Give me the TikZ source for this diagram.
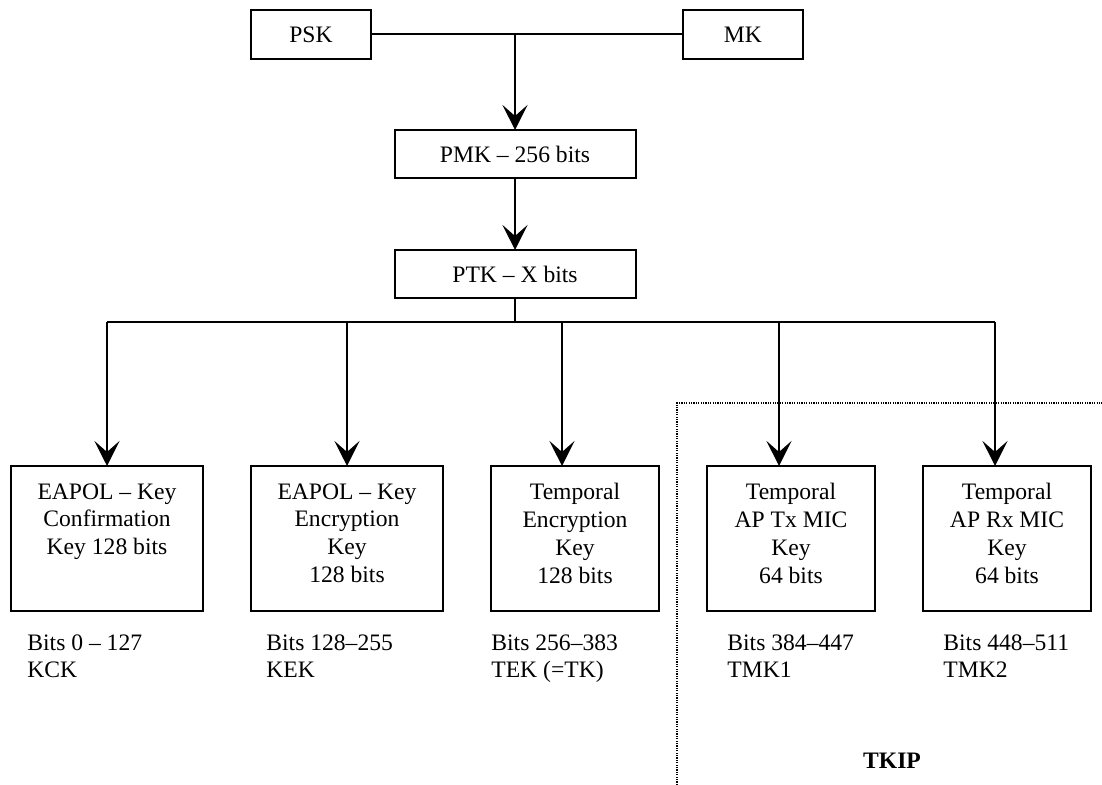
\documentclass[tikz,border=0pt]{standalone}
\usepackage{fontspec}
\setmainfont{Liberation Serif}
\usetikzlibrary{arrows.meta}
\begin{document}
\begin{tikzpicture}[x=0.5pt,y=-0.5pt,
  txt/.style={font=\fontsize{11.8}{13.9}\selectfont},
  keybox/.style={draw,line width=1pt,inner sep=0pt,outer sep=0pt},
  topbox/.style={keybox,txt,minimum width=60pt,minimum height=24.5pt},
  midbox/.style={keybox,txt,minimum width=120.5pt,minimum height=24pt},
  widebox/.style={keybox,minimum width=96pt,minimum height=72.5pt},
  narrowbox/.style={keybox,minimum width=84pt,minimum height=72.5pt},
  boxtext/.style={txt,align=center,inner sep=0pt,anchor=north},
  bitlabel/.style={txt,align=left,inner sep=0pt,anchor=north west},
  wire/.style={line width=1pt},
  feed/.style={wire,-{Stealth[length=12.5pt,width=12.5pt,inset=5.5pt]}},
  group/.style={line width=0.8pt,dash pattern=on 0.6pt off 0.6pt}
]
\useasboundingbox (0,0) rectangle (1102,785);

% key sources
\node[topbox] (psk) at (311,34.5) {PSK};
\node[topbox] (mk)  at (743,34.5) {MK};
\coordinate (merge) at (515,34.5);

% derived master keys
\node[midbox] (pmk) at (515,154) {PMK -- 256 bits};
\node[midbox] (ptk) at (515,274) {PTK -- X bits};

% split of the PTK
\node[widebox]   (kck)  at (107,538.5) {};
\node[widebox]   (kek)  at (347,538.5) {};
\node[narrowbox] (tek)  at (575,538.5) {};
\node[narrowbox] (tmk1) at (791,538.5) {};
\node[narrowbox] (tmk2) at (1007,538.5) {};

\node[boxtext] (kckt)  at ([yshift=-8.5pt]kck.north)  {EAPOL -- Key\\Confirmation\\Key 128 bits};
\node[boxtext] (kekt)  at ([yshift=-8.5pt]kek.north)  {EAPOL -- Key\\Encryption\\Key\\128 bits};
\node[boxtext] (tekt)  at ([yshift=-8.5pt]tek.north)  {Temporal\\Encryption\\Key\\128 bits};
\node[boxtext] (tmk1t) at ([yshift=-8.5pt]tmk1.north) {Temporal\\AP Tx MIC\\Key\\64 bits};
\node[boxtext] (tmk2t) at ([yshift=-8.5pt]tmk2.north) {Temporal\\AP Rx MIC\\Key\\64 bits};

% bus junctions
\coordinate (j1) at (107,322);
\coordinate (j2) at (347,322);
\coordinate (j3) at (562,322);
\coordinate (j4) at (779,322);
\coordinate (j5) at (995,322);

% connectors
\draw[wire] (psk.east) -- (mk.west);
\draw[feed] (merge) -- (pmk.north);
\draw[feed] (pmk.south) -- (ptk.north);
\draw[wire] (ptk.south) -- (ptk.south |- j1);
\draw[wire] (j1) -- (j5);
\draw[feed] (j1) -- (kck.north);
\draw[feed] (j2) -- (kek.north);
\draw[feed] (j3) -- (j3 |- tek.north);
\draw[feed] (j4) -- (j4 |- tmk1.north);
\draw[feed] (j5) -- (j5 |- tmk2.north);

% bit ranges
\node[bitlabel] (l1) at (27,634)  {Bits 0 -- 127\\KCK};
\node[bitlabel] (l2) at (266,634) {Bits 128--255\\KEK};
\node[bitlabel] (l3) at (491,634) {Bits 256--383\\TEK (=TK)};
\node[bitlabel] (l4) at (727,634) {Bits 384--447\\TMK1};
\node[bitlabel] (l5) at (943,634) {Bits 448--511\\TMK2};

% TKIP group
\coordinate (g1) at (677,785);
\coordinate (g2) at (677,403);
\coordinate (g3) at (1102,403);
\draw[group] (g1) -- (g2) -- (g3);
\node[inner sep=0pt,anchor=base,font=\fontsize{11.8}{13.9}\selectfont\bfseries] (tkip) at (892,768) {TKIP};
\end{tikzpicture}
\end{document}
